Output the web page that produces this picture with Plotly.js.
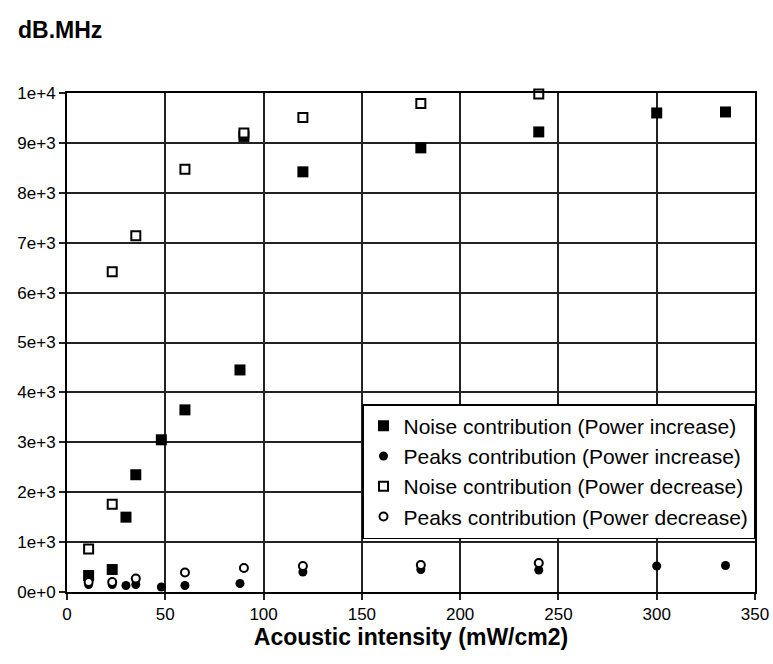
<!DOCTYPE html>
<html>
<head>
<meta charset="utf-8">
<script src="https://cdn.plot.ly/plotly-3.0.1.min.js"></script>
<style>html,body{margin:0;padding:0;background:#fff;}#chart{width:773px;height:664px;}</style>
</head>
<body>
<div id="chart"></div>
<script>
// Noise contribution (Power increase)
const noiseIncX = [11, 23, 30, 35, 48, 60, 88, 90, 120, 180, 240, 300, 335];
const noiseIncY = [330, 450, 1500, 2350, 3050, 3650, 4450, 9130, 8420, 8900, 9220, 9600, 9620];
// Peaks contribution (Power increase)
const peaksIncX = [11, 23, 30, 35, 48, 60, 88, 120, 180, 240, 300, 335];
const peaksIncY = [150, 150, 130, 150, 100, 130, 170, 400, 450, 440, 520, 530];
// Noise contribution (Power decrease)
const noiseDecX = [11, 23, 23, 35, 60, 90, 120, 180, 240];
const noiseDecY = [860, 1760, 6420, 7140, 8470, 9200, 9510, 9790, 9980];
// Peaks contribution (Power decrease)
const peaksDecX = [11, 23, 35, 60, 90, 120, 180, 240];
const peaksDecY = [200, 200, 270, 390, 480, 520, 540, 580];

const seriesNames = [
  'Noise contribution (Power increase)',
  'Peaks contribution (Power increase)',
  'Noise contribution (Power decrease)',
  'Peaks contribution (Power decrease)'
];

const xTickVals = [0, 50, 100, 150, 200, 250, 300, 350];
const xTickText = ['0', '50', '100', '150', '200', '250', '300', '350'];
const yTickVals = [0, 1000, 2000, 3000, 4000, 5000, 6000, 7000, 8000, 9000, 10000];
const yTickText = ['0e+0', '1e+3', '2e+3', '3e+3', '4e+3', '5e+3', '6e+3', '7e+3', '8e+3', '9e+3', '1e+4'];

const FONT = '"Liberation Sans", Arial, sans-serif';

const traces = [
  {x: noiseIncX, y: noiseIncY, name: seriesNames[0],
   marker: {symbol: 'square', size: 11, color: '#000', line: {width: 0}}},
  {x: peaksIncX, y: peaksIncY, name: seriesNames[1],
   marker: {symbol: 'circle', size: 9, color: '#000', line: {width: 0}}},
  {x: noiseDecX, y: noiseDecY, name: seriesNames[2],
   marker: {symbol: 'square', size: 9, color: '#fff', line: {width: 2, color: '#000'}}},
  {x: peaksDecX, y: peaksDecY, name: seriesNames[3],
   marker: {symbol: 'circle', size: 8, color: '#fff', line: {width: 2, color: '#000'}}}
].map(t => Object.assign({type: 'scatter', mode: 'markers', cliponaxis: false}, t));

const layout = {
  width: 773, height: 664,
  margin: {l: 67, r: 18, t: 93, b: 72},
  paper_bgcolor: '#fff', plot_bgcolor: '#fff',
  font: {family: FONT, color: '#000', size: 17},
  title: {text: '<b>dB.MHz</b>', xref: 'container', yref: 'container',
          x: 18/773, xanchor: 'left', y: 1 - 30/664, yanchor: 'middle',
          font: {family: FONT, size: 23, color: '#000'}},
  xaxis: {
    range: [0, 350], tickvals: xTickVals, ticktext: xTickText,
    showgrid: true, gridcolor: '#222', gridwidth: 2,
    showline: true, linecolor: '#000', linewidth: 2, mirror: true,
    ticks: 'outside', ticklen: 6, tickcolor: '#222', tickwidth: 2,
    zeroline: false,
    tickfont: {family: FONT, size: 17, color: '#000'},
    title: {text: '<b>Acoustic intensity (mW/cm2)</b>', standoff: 4,
            font: {family: FONT, size: 23, color: '#000'}}
  },
  yaxis: {
    range: [0, 10000], tickvals: yTickVals, ticktext: yTickText,
    showgrid: true, gridcolor: '#222', gridwidth: 2,
    showline: true, linecolor: '#000', linewidth: 2, mirror: true,
    ticks: 'outside', ticklen: 6, tickcolor: '#222', tickwidth: 2,
    zeroline: false,
    tickfont: {family: FONT, size: 17, color: '#000'}
  },
  showlegend: true,
  legend: {
    x: (362 - 67) / 688, y: (592 - 404) / 499, xanchor: 'left', yanchor: 'top',
    bgcolor: '#fff', bordercolor: '#000', borderwidth: 1.5,
    font: {family: FONT, size: 21, color: '#000'},
    traceorder: 'normal'
  }
};

Plotly.newPlot('chart', traces, layout, {displayModeBar: false, staticPlot: true});
</script>
</body>
</html>
